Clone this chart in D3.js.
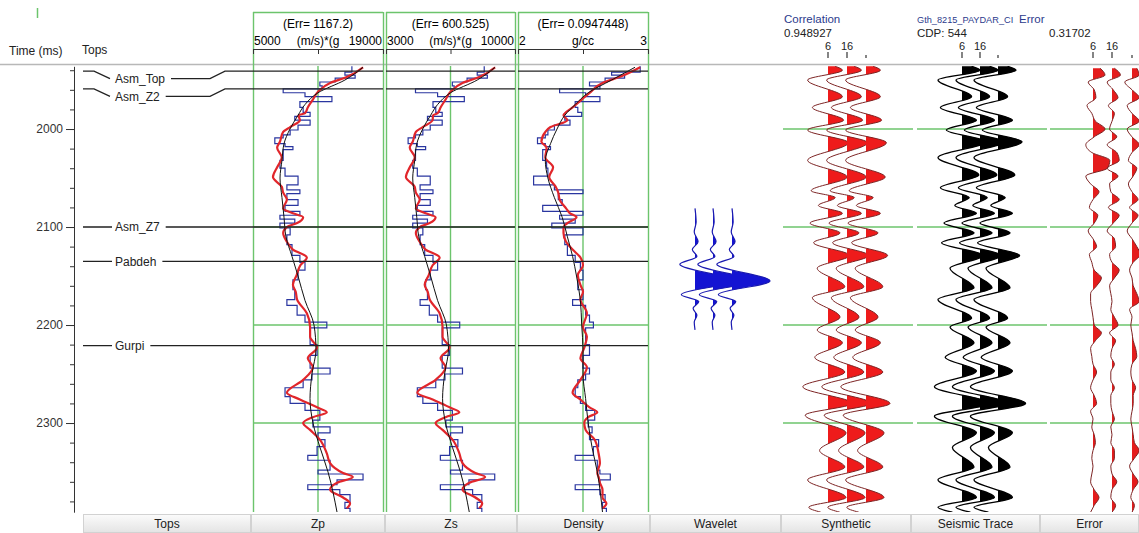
<!DOCTYPE html>
<html>
<head>
<meta charset="UTF-8">
<title>Inversion Analysis</title>
<script src="https://cdnjs.cloudflare.com/ajax/libs/d3/7.8.5/d3.min.js"></script>
<style>
  body { margin: 0; background: #fff; }
  svg { font-family: "Liberation Sans", Arial, sans-serif; font-size: 12px; }
  .grid { stroke: #6cc46c; stroke-width: 1.4px; }
  .top-line { stroke: #222; stroke-width: 1.3px; fill: none; }
  .log { fill: none; stroke: #2a36a0; stroke-width: 1.2px; }
  .inv { fill: none; stroke: #e1262b; stroke-width: 2.2px; }
  .model { fill: none; stroke: #111; stroke-width: 1px; }
  .hdr-blue { fill: #2b3a8c; }
</style>
</head>
<body>
<svg width="1139" height="533"></svg>
<script>
var topNames = ['Asm_Top', 'Asm_Z2', 'Asm_Z7', 'Pabdeh', 'Gurpi'];
var topTimes = [1941, 1959, 2100, 2135, 2221];

var timeTicks = [2000, 2100, 2200, 2300];

var zpRange = [5000, 19000], zsRange = [3000, 10000], rhoRange = [2, 3];
var errLabels = ['(Err= 1167.2)', '(Err= 600.525)', '(Err= 0.0947448)'];
var unitLabels = ['(m/s)*(g', '(m/s)*(g', 'g/cc'];

// blocked well logs (block top time, value)
var logTime = [1936, 1942, 1945, 1948, 1952, 1956, 1959, 1963, 1967, 1972,
  1978, 1983, 1987, 1991, 1996, 2001, 2006, 2009, 2015, 2018,
  2021, 2032, 2040, 2048, 2057, 2062, 2066, 2072, 2078, 2084,
  2088, 2092, 2096, 2101, 2108, 2118, 2129, 2136, 2144, 2154,
  2164, 2174, 2180, 2190, 2197, 2203, 2220, 2231, 2244, 2250,
  2256, 2264, 2273, 2280, 2287, 2297, 2304, 2310, 2317, 2324,
  2333, 2338, 2348, 2352, 2358, 2363, 2368, 2373, 2381, 2387,
  2391];
var zpLog = [15650, 14900, 16000, 13850, 12200, 12450, 8250, 10600, 13500, 10050,
  10400, 11150, 9500, 11150, 9850, 9000, 8250, 7350, 8450, 9300,
  8250, 7900, 8450, 9850, 8650, 10050, 8650, 9850, 8450, 10050,
  7900, 9500, 7900, 9000, 8650, 9200, 10050, 10600, 9850, 9300,
  9500, 8650, 9750, 10600, 12950, 11150, 11900, 11150, 13300, 11350,
  10400, 8450, 9000, 10600, 12200, 11450, 13300, 12000, 12750, 11900,
  10900, 13300, 12000, 16850, 14050, 10900, 14350, 15450, 14900, 15450,
  15450];
var zsLog = [8330, 7950, 8500, 7400, 6600, 6700, 4600, 5800, 7250, 5550,
  5700, 6050, 5250, 6050, 5400, 5000, 4600, 4200, 4700, 5150,
  4600, 4450, 4700, 5400, 4850, 5550, 4850, 5400, 4700, 5550,
  4450, 5250, 4450, 5000, 4850, 5100, 5550, 5800, 5400, 5150,
  5250, 4850, 5350, 5800, 7000, 6050, 6450, 6050, 7150, 6200,
  5700, 4700, 5000, 5800, 6600, 6250, 7150, 6500, 6900, 6450,
  5950, 7150, 6500, 8900, 7500, 5950, 7700, 8200, 7950, 8200,
  8200];
var rhoLog = [2.94, 2.72, 2.82, 2.67, 2.55, 2.63, 2.32, 2.52, 2.63, 2.44,
  2.46, 2.49, 2.36, 2.40, 2.28, 2.23, 2.21, 2.15, 2.21, 2.25,
  2.19, 2.22, 2.23, 2.12, 2.28, 2.50, 2.31, 2.34, 2.19, 2.50,
  2.32, 2.44, 2.26, 2.50, 2.36, 2.38, 2.44, 2.48, 2.50, 2.46,
  2.50, 2.42, 2.52, 2.55, 2.58, 2.52, 2.55, 2.50, 2.55, 2.52,
  2.46, 2.44, 2.48, 2.52, 2.59, 2.54, 2.57, 2.55, 2.62, 2.58,
  2.44, 2.61, 2.63, 2.71, 2.63, 2.44, 2.63, 2.67, 2.65, 2.68,
  2.68];

// inversion result (red)
var invTime = [1937, 1947, 1953, 1962, 1970, 1978, 1984, 1986, 1991, 1998,
  2003, 2013, 2019, 2029, 2039, 2049, 2059, 2065, 2072, 2081,
  2086, 2090, 2096, 2100, 2106, 2115, 2123, 2131, 2139, 2149,
  2159, 2166, 2174, 2188, 2202, 2212, 2223, 2234, 2243, 2256,
  2269, 2276, 2284, 2289, 2294, 2300, 2307, 2317, 2331, 2341,
  2351, 2355, 2361, 2368, 2376, 2382, 2387];
var zpInv = [16850, 15100, 13300, 12000, 11450, 10900, 10600, 9900, 10050, 9000,
  8250, 7900, 7600, 8100, 7600, 7150, 8100, 8250, 8650, 8250,
  9300, 10400, 9750, 8650, 8250, 8650, 9300, 10800, 10100, 9700,
  9300, 9600, 9750, 10800, 11150, 11150, 11900, 10900, 11450, 10400,
  8650, 10050, 11900, 12950, 11450, 10400, 11150, 12200, 12950, 13300,
  14700, 15750, 14050, 13300, 14700, 15450, 15100];
var zsInv = [8920, 8060, 7150, 6500, 6230, 5960, 5800, 5550, 5530, 4990,
  4620, 4450, 4290, 4560, 4290, 4080, 4560, 4620, 4830, 4620,
  5150, 5690, 5370, 4830, 4620, 4830, 5150, 5910, 5530, 5320,
  5100, 5260, 5370, 5910, 6070, 6070, 6450, 5960, 6230, 5690,
  4700, 5530, 6450, 6980, 6230, 5690, 6070, 6610, 6980, 7150,
  7850, 8380, 7520, 7150, 7850, 8220, 8060];
var rhoInv = [2.94, 2.78, 2.65, 2.56, 2.49, 2.42, 2.36, 2.35, 2.38, 2.25,
  2.21, 2.18, 2.22, 2.21, 2.27, 2.24, 2.29, 2.31, 2.32, 2.37,
  2.40, 2.45, 2.38, 2.35, 2.35, 2.37, 2.42, 2.48, 2.50, 2.46,
  2.48, 2.50, 2.48, 2.53, 2.50, 2.53, 2.51, 2.48, 2.53, 2.48,
  2.42, 2.48, 2.55, 2.61, 2.54, 2.51, 2.52, 2.59, 2.62, 2.63,
  2.61, 2.62, 2.63, 2.65, 2.65, 2.68, 2.65];

// initial model (black)
var modelTime = [1937, 1950, 1963, 1975, 1986, 2000, 2015, 2032, 2050, 2070, 2090, 2110,
  2130, 2150, 2175, 2200, 2225, 2250, 2275, 2300, 2325, 2350, 2391];
var zpModel = [16850, 14900, 12000, 10600, 9850, 8980, 8340, 8120, 7910, 8120, 8340, 8550,
  9200, 9850, 10600, 11570, 11780, 11350, 11140, 11460, 12220, 13080, 14050];
var zsModel = [8920, 7950, 6500, 5800, 5420, 4990, 4670, 4560, 4450, 4560, 4670, 4780,
  5100, 5420, 5800, 6280, 6390, 6180, 6070, 6230, 6610, 7040, 7520];
var rhoModel = [2.90, 2.72, 2.54, 2.44, 2.36, 2.30, 2.25, 2.21, 2.23, 2.28, 2.34, 2.38,
  2.42, 2.45, 2.48, 2.49, 2.50, 2.50, 2.52, 2.54, 2.57, 2.61, 2.65];

// wavelet (lag ms, amplitude)
var waveCenter = 2155;
var waveLag = [-74, -60, -50, -40, -32, -25, -17, 0, 14, 21, 28, 35, 42, 50];
var waveAmp = [0, 0.03, -0.02, 0.08, -0.07, 0.05, -0.4, 1.0, -0.36, 0.1, -0.05, 0.05, -0.02, 0];

// synthetic and seismic trace extrema
var synTime = [1936, 1940, 1950, 1967, 1978, 1991, 2001, 2014, 2032, 2049,
  2063, 2070, 2078, 2086, 2096, 2106, 2116, 2129, 2142, 2161,
  2172, 2192, 2205, 2218, 2233, 2248, 2263, 2280, 2292, 2310,
  2328, 2345, 2358, 2376, 2386, 2391];
var synAmp = [0.3, 0.6, -0.85, 0.6, -0.65, 0.65, -0.85, 0.85, -0.85, 0.8,
  -0.7, 0.3, -0.4, 0.6, -0.75, 0.5, -0.6, 0.9, -0.45, 0.7,
  -0.65, 0.5, -0.45, 0.6, -0.55, 0.7, -1.05, 1.0, -0.95, 0.75,
  -0.35, 0.7, -0.85, 0.75, -0.8, -0.3];
var seisTime = [1936, 1940, 1950, 1967, 1978, 1991, 2001, 2013, 2029, 2047,
  2060, 2070, 2078, 2086, 2096, 2106, 2116, 2129, 2142, 2162,
  2174, 2193, 2202, 2218, 2233, 2247, 2263, 2280, 2293, 2310,
  2325, 2345, 2358, 2376, 2386, 2391];
var seisAmp = [0.4, 0.75, -1.0, 0.4, -0.9, 0.6, -0.65, 1.0, -1.0, 0.7,
  -0.9, 0.3, -0.3, 0.6, -0.75, 0.5, -0.85, 0.9, -0.5, 0.5,
  -1.0, 0.4, -0.5, 0.5, -0.7, 0.6, -1.15, 1.15, -1.15, 0.6,
  -0.4, 0.5, -1.0, 0.6, -1.0, -0.4];

// error traces
var errTime = [1938, 1945, 1952, 1960, 1968, 1976, 1984, 1992,
  2000, 2008, 2016, 2024, 2032, 2040, 2048, 2056, 2064, 2072,
  2080, 2088, 2096, 2104, 2112, 2120, 2128, 2136, 2144, 2152,
  2160, 2168, 2176, 2184, 2192, 2200, 2208, 2216, 2224, 2232,
  2240, 2248, 2256, 2264, 2272, 2280, 2288, 2296, 2304, 2312,
  2320, 2328, 2336, 2344, 2352, 2360, 2368, 2376, 2384, 2391];
var errA = [0.3, 0.5, -0.2, 0.05, 0.12, -0.25, -0.05, 0.1,
  0.5, 0.05, -0.3, -0.05, 0.7, 0.6, -0.3, -0.1, 0.25, 0.0,
  -0.15, 0.2, 0.05, -0.2, 0.0, 0.15, -0.15, -0.05, 0.05, 0.35,
  0.15, -0.1, -0.1, -0.05, 0.0, 0.05, 0.35, 0.1, -0.1, -0.05,
  0.0, 0.15, 0.0, -0.1, 0.05, 0.15, -0.1, 0.0, -0.05, 0.05,
  0.1, 0.0, -0.05, 0.0, -0.05, -0.1, 0.05, 0.25, 0.05, -0.1];
var errB = [0.1, 0.35, -0.2, 0.05, 0.25, -0.15, 0.1, 0.0,
  -0.1, 0.2, -0.2, 0.2, 0.3, -0.2, 0.25, -0.1, -0.05, 0.3,
  -0.15, 0.3, 0.05, -0.2, 0.1, 0.15, -0.1, 0.0, 0.3, 0.1,
  -0.1, -0.05, 0.0, -0.05, 0.1, 0.25, -0.1, 0.15, 0.0, -0.05,
  0.1, -0.05, -0.05, 0.1, -0.05, -0.05, 0.0, 0.1, -0.05, 0.0,
  -0.05, 0.1, 0.1, -0.05, 0.0, 0.2, 0.0, -0.05, 0.15, 0.0];
var errC = [0.2, 0.3, -0.3, 0.0, 0.3, -0.2, 0.0, 0.3,
  -0.2, 0.0, 0.3, 0.0, -0.15, 0.2, 0.05, -0.15, 0.0, 0.25,
  -0.1, 0.25, 0.0, -0.2, 0.0, 0.2, 0.35, 0.05, -0.1, 0.0,
  0.05, 0.2, 0.3, -0.1, 0.0, -0.05, 0.0, 0.05, 0.15, 0.2,
  0.0, -0.05, 0.0, 0.15, 0.05, 0.05, 0.0, -0.05, 0.0, 0.05,
  0.1, 0.3, 0.1, -0.1, 0.05, 0.25, 0.05, -0.05, 0.1, 0.0];

var panelTitles = ['Correlation', 'Gth_8215_PAYDAR_CI', 'Error'];
var panelValues = ['0.948927', 'CDP: 544', '0.31702'];
var traceLabels = ['6', '16', ''];
var panelNames = ['Tops', 'Zp', 'Zs', 'Density', 'Wavelet', 'Synthetic', 'Seismic Trace', 'Error'];

// ---- layout ----
var svg = d3.select('svg'),
    plotTop = 66, plotBottom = 512,
    defs = svg.append('defs');

var y = d3.scaleLinear().domain([1936, 2391]).range([66.3, 512.2]);

function pairs(t, v) { return t.map(function(d, i) { return [d, v[i]]; }); }
function clipRect(id, x, w) {
  defs.append('clipPath').attr('id', id).append('rect')
    .attr('x', x).attr('y', plotTop).attr('width', w).attr('height', plotBottom - plotTop);
  return 'url(#' + id + ')';
}

// small green marker top-left
svg.append('line').attr('x1', 37.5).attr('x2', 37.5).attr('y1', 8).attr('y2', 18)
  .attr('stroke', '#6cc46c').attr('stroke-width', 1.5);

// header separator
svg.append('line').attr('x1', 0).attr('x2', 1139).attr('y1', 64.5).attr('y2', 64.5)
  .attr('stroke', '#b8b8b8').attr('stroke-width', 1.5);

svg.append('text').attr('x', 9).attr('y', 55).attr('fill', '#222').text('Time (ms)');
svg.append('text').attr('x', 82).attr('y', 54).attr('fill', '#222').text('Tops');

// time axis
var axisX = 74;
svg.append('g').attr('transform', 'translate(' + axisX + ',0)')
  .call(d3.axisLeft(y).tickValues(d3.range(1940, 2391, 20)).tickSize(4).tickSizeOuter(0).tickFormat(''))
  .call(function(g) { g.selectAll('line, path').attr('stroke', '#333'); });
svg.append('g').attr('transform', 'translate(' + axisX + ',0)')
  .call(d3.axisLeft(y).tickValues(timeTicks).tickSize(8).tickSizeOuter(0).tickFormat(d3.format('d')))
  .call(function(g) {
    g.select('.domain').remove();
    g.selectAll('line').attr('stroke', '#333');
    g.selectAll('text').attr('font-size', 12).attr('font-family', '"Liberation Sans", Arial, sans-serif')
      .attr('fill', '#333').attr('x', -11);
  });

// ---- log tracks ----
var logTracks = [
  { x0: 253, x1: 383, range: zpRange, log: zpLog, inv: zpInv, model: zpModel },
  { x0: 386, x1: 515, range: zsRange, log: zsLog, inv: zsInv, model: zsModel },
  { x0: 518, x1: 648, range: rhoRange, log: rhoLog, inv: rhoInv, model: rhoModel }
];

logTracks.forEach(function(tr, i) {
  var x = d3.scaleLinear().domain(tr.range).range([tr.x0, tr.x1]);
  var mid = (tr.range[0] + tr.range[1]) / 2;
  var g = svg.append('g');

  // frame and grid
  g.append('line').attr('class', 'grid').attr('x1', tr.x0).attr('x2', tr.x1).attr('y1', 12.5).attr('y2', 12.5);
  [tr.x0, tr.x1].forEach(function(xx) {
    g.append('line').attr('class', 'grid').attr('x1', xx + 0.5).attr('x2', xx + 0.5).attr('y1', 12).attr('y2', plotBottom);
  });
  g.append('line').attr('class', 'grid').attr('x1', x(mid)).attr('x2', x(mid)).attr('y1', plotTop).attr('y2', plotBottom);
  timeTicks.slice(1).forEach(function(t) {
    g.append('line').attr('class', 'grid').attr('x1', tr.x0).attr('x2', tr.x1).attr('y1', y(t)).attr('y2', y(t));
  });

  // header
  g.append('text').attr('x', (tr.x0 + tr.x1) / 2).attr('y', 28).attr('text-anchor', 'middle').text(errLabels[i]);
  g.append('text').attr('x', tr.x0 + 1).attr('y', 45).text(tr.range[0]);
  g.append('text').attr('x', tr.x1 - 1).attr('y', 45).attr('text-anchor', 'end').text(tr.range[1]);
  g.append('text').attr('x', (tr.x0 + tr.x1) / 2).attr('y', 45).attr('text-anchor', 'middle').text(unitLabels[i]);
  g.append('g').attr('transform', 'translate(0,49)')
    .call(d3.axisBottom(x).tickValues([tr.range[0], mid, tr.range[1]]).tickSize(5).tickSizeOuter(0).tickFormat(''))
    .call(function(a) { a.selectAll('line, path').attr('stroke', '#333'); });

  // curves
  var clip = clipRect('logclip' + i, tr.x0, tr.x1 - tr.x0);
  var c = g.append('g').attr('clip-path', clip);
  c.append('path').attr('class', 'log')
    .attr('d', d3.line().curve(d3.curveStepBefore).x(function(d) { return x(d[1]); }).y(function(d) { return y(d[0]); })(pairs(logTime, tr.log)));
  c.append('path').attr('class', 'inv')
    .attr('d', d3.line().curve(d3.curveMonotoneY).x(function(d) { return x(d[1]); }).y(function(d) { return y(d[0]); })(pairs(invTime, tr.inv)));
  c.append('path').attr('class', 'model')
    .attr('d', d3.line().curve(d3.curveMonotoneY).x(function(d) { return x(d[1]); }).y(function(d) { return y(d[0]); })(pairs(modelTime, tr.model)));

  // tops across the track
  topTimes.forEach(function(t) {
    g.append('line').attr('class', 'top-line').attr('x1', tr.x0).attr('x2', tr.x1).attr('y1', y(t)).attr('y2', y(t));
  });
});

// ---- tops column ----
var topsG = svg.append('g');
topNames.forEach(function(name, i) {
  var ty = y(topTimes[i]);
  var shift = topTimes[i] - 1936 < 30 ? 7.5 : 0;
  var label = topsG.append('text').attr('x', 115).attr('y', ty + shift).attr('dy', '0.35em')
    .attr('fill', '#222').text(name);
  var end = 115 + label.node().getComputedTextLength() + 6;
  var p = d3.path();
  if (shift) {
    p.moveTo(83, ty); p.lineTo(94, ty); p.lineTo(110, ty + shift);
    p.moveTo(end, ty + shift); p.lineTo(210, ty + shift); p.lineTo(225, ty); p.lineTo(253, ty);
  } else {
    p.moveTo(83, ty); p.lineTo(112, ty);
    p.moveTo(end, ty); p.lineTo(253, ty);
  }
  topsG.append('path').attr('class', 'top-line').attr('d', p.toString());
});

// ---- wiggle trace helper ----
var ampPx = 24;
var nClip = 0;
function wiggle(g, times, amps, base, px, fill, stroke, width) {
  var a = d3.scaleLinear().domain([-1, 1]).range([base - px, base + px]);
  var pts = pairs(times, amps);
  var clip = clipRect('wclip' + (nClip++), base, 120);
  g.append('path').attr('clip-path', clip).attr('fill', fill)
    .attr('d', d3.area().curve(d3.curveMonotoneY).y(function(d) { return y(d[0]); })
      .x0(base).x1(function(d) { return a(d[1]); })(pts));
  g.append('path').attr('fill', 'none').attr('stroke', stroke).attr('stroke-width', width)
    .attr('d', d3.line().curve(d3.curveMonotoneY).y(function(d) { return y(d[0]); })
      .x(function(d) { return a(d[1]); })(pts));
}

// ---- wavelet ----
var waveG = svg.append('g');
var waveTimes = waveLag.map(function(l) { return waveCenter + l; });
[695, 713, 732].forEach(function(b) {
  wiggle(waveG, waveTimes, waveAmp, b, 38, '#1414d2', '#1a1ab0', 1.2);
});

// ---- trace panels ----
var segs = [[783, 913], [917, 1047], [1050, 1139]];
var gridG = svg.append('g');
timeTicks.forEach(function(t) {
  segs.forEach(function(s) {
    gridG.append('line').attr('class', 'grid').attr('x1', s[0]).attr('x2', s[1]).attr('y1', y(t)).attr('y2', y(t));
  });
});

var panels = [
  { tx: 784, vx: 784, fs: 11.5, bases: [828, 847, 866], series: [[synTime, synAmp], [synTime, synAmp], [synTime, synAmp]], fill: '#ee1b1b', stroke: '#7d2424' },
  { tx: 917, vx: 917, fs: 9.2, bases: [962, 980, 998], series: [[seisTime, seisAmp], [seisTime, seisAmp], [seisTime, seisAmp]], fill: '#000', stroke: '#000' },
  { tx: 1019, vx: 1049, fs: 11.5, bases: [1093, 1112, 1132], series: [[errTime, errA], [errTime, errB], [errTime, errC]], fill: '#e41c1c', stroke: '#7d2424' }
];

panels.forEach(function(p, i) {
  var g = svg.append('g').attr('clip-path', clipRect('panel' + i, p.bases[0] - 60, 180));
  p.series.forEach(function(s, k) {
    wiggle(g, s[0], s[1], p.bases[k], ampPx, p.fill, p.stroke, i === 1 ? 1.3 : 1);
  });
  svg.append('text').attr('class', 'hdr-blue').attr('x', p.tx).attr('y', 23).attr('font-size', p.fs).text(panelTitles[i]);
  svg.append('text').attr('x', p.vx).attr('y', 37).attr('font-size', 11.5).attr('fill', '#222').text(panelValues[i]);
  p.bases.forEach(function(b, k) {
    svg.append('text').attr('x', b).attr('y', 50).attr('font-size', 11).attr('text-anchor', 'middle').attr('fill', '#222').text(traceLabels[k]);
    svg.append('line').attr('x1', b).attr('x2', b).attr('y1', traceLabels[k] ? 52 : 55).attr('y2', 58)
      .attr('stroke', '#333').attr('stroke-width', 1.2);
  });
});

// ---- bottom bar ----
var barEdges = [83, 251, 385, 517, 650, 781, 911, 1040, 1139];
var grad = defs.append('linearGradient').attr('id', 'barGrad').attr('x1', 0).attr('x2', 0).attr('y1', 0).attr('y2', 1);
grad.append('stop').attr('offset', '0%').attr('stop-color', '#fbfbfb');
grad.append('stop').attr('offset', '100%').attr('stop-color', '#e4e4e4');
var bar = svg.append('g');
panelNames.forEach(function(name, i) {
  var a = barEdges[i], b = barEdges[i + 1];
  bar.append('rect').attr('x', a + 0.5).attr('y', 514.5).attr('width', b - a - 1).attr('height', 18)
    .attr('fill', 'url(#barGrad)').attr('stroke', '#d2d2d2');
  bar.append('text').attr('x', (a + b) / 2).attr('y', 528).attr('text-anchor', 'middle')
    .attr('fill', '#222').text(name);
});
</script>
</body>
</html>
